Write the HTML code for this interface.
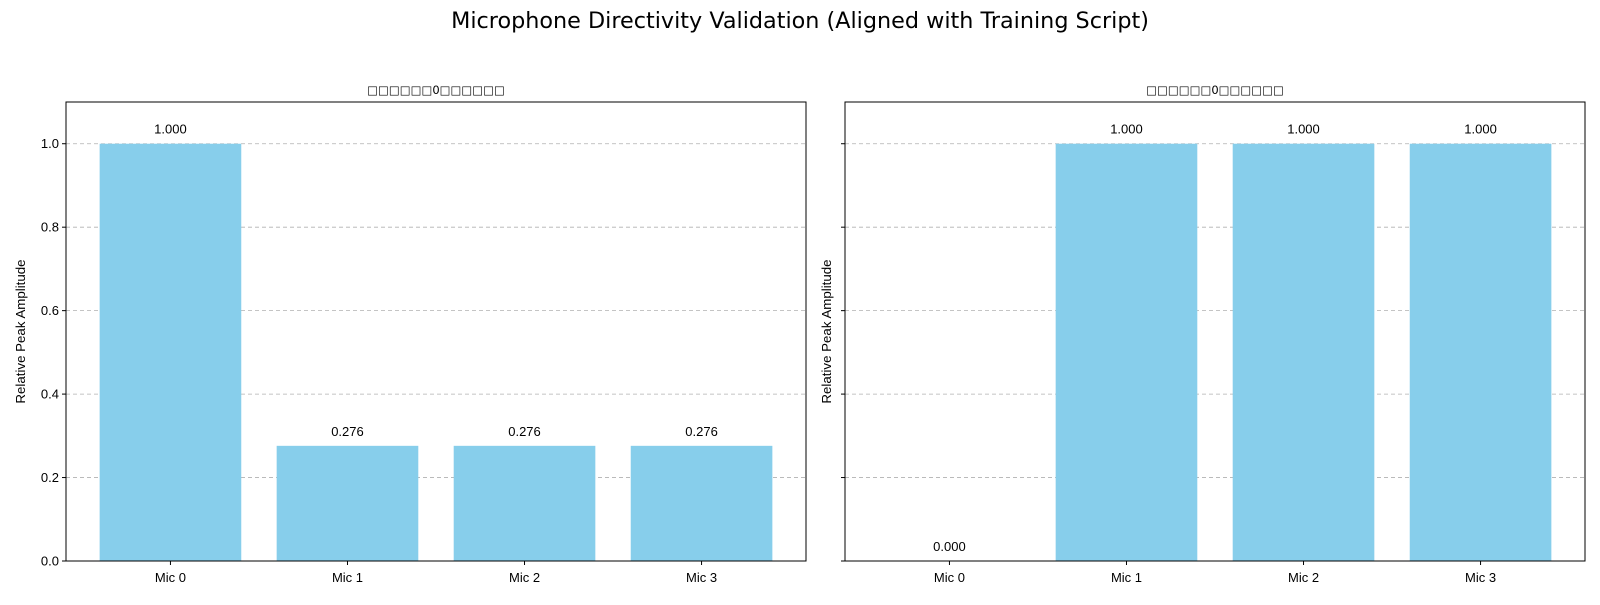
<!DOCTYPE html>
<html><head><meta charset="utf-8"><style>
body{margin:0;background:#fff;font-family:"Liberation Sans","DejaVu Sans",sans-serif;}
</style></head><body>
<svg id="chart" width="1600" height="600" xmlns="http://www.w3.org/2000/svg">
<text x="800" y="28" text-anchor="middle" font-size="22.3" font-family="DejaVu Sans, Liberation Sans, sans-serif">Microphone Directivity Validation (Aligned with Training Script)</text>
</svg>
<script>
const categories=["Mic 0","Mic 1","Mic 2","Mic 3"];
const leftValues=[1.0,0.276,0.276,0.276];
const rightValues=[0.0,1.0,1.0,1.0];
const yTicks=[0,0.2,0.4,0.6,0.8,1.0];
const titles=["□□□□□□0□□□□□□","□□□□□□0□□□□□□"];
const svg=document.getElementById('chart');
const NS="http://www.w3.org/2000/svg";
function mk(tag,attrs,parent){const e=document.createElementNS(NS,tag);for(const k in attrs)e.setAttribute(k,attrs[k]);(parent||svg).appendChild(e);return e;}
const plotTop=102,plotBot=561,ymax=1.1;
function Y(v){return plotBot-(v/ymax)*(plotBot-plotTop);}
function panel(x0,x1,vals,title,idx,showLabels){
  const g=mk('g',{});
  
  
  const xmin=-0.59,xmax=categories.length-1+0.59;
  const X=v=>x0+(v-xmin)/(xmax-xmin)*(x1-x0);
  yTicks.forEach(t=>{
    if(t>0){const l=mk('line',{x1:x0,x2:x1,y1:Y(t),y2:Y(t),stroke:'#b0b0b0','stroke-dasharray':'4,3','stroke-width':0.8},g);
    }
    const tk=mk('line',{x1:x0-4,x2:x0,y1:Y(t),y2:Y(t),stroke:'#000'},g);
    
    if(showLabels){const tx=mk('text',{x:x0-7,y:Y(t)+4.5,'text-anchor':'end','font-size':13},g);tx.textContent=t.toFixed(1);
    }
  });
  const bw=(X(0.8)-X(0));
  vals.forEach((v,i)=>{
    const r=mk('rect',{x:X(i)-bw/2,y:Y(v),width:bw,height:plotBot-Y(v),fill:'#87ceeb'},g);
    
    
    const t=mk('text',{x:X(i),y:Y(v)-10,'text-anchor':'middle','font-size':13},g);t.textContent=v.toFixed(3);
    
    const tk=mk('line',{x1:X(i),x2:X(i),y1:plotBot,y2:plotBot+4,stroke:'#000'},g);
    
    const xl=mk('text',{x:X(i),y:plotBot+21,'text-anchor':'middle','font-size':13},g);xl.textContent=categories[i];
    
  });
  const fr=mk('rect',{x:x0,y:plotTop,width:x1-x0,height:plotBot-plotTop,fill:'none',stroke:'#000','stroke-width':1},g);
  
  const tt=mk('text',{x:(x0+x1)/2,y:94,'text-anchor':'middle','font-size':11.5,'font-family':'DejaVu Sans, sans-serif'},g);tt.textContent=title;
  
  const yl=mk('text',{x:0,y:0,'text-anchor':'middle','font-size':13.3,transform:`translate(${x0-(showLabels?41:14)},${(plotTop+plotBot)/2}) rotate(-90)`},g);yl.textContent='Relative Peak Amplitude';
  
}
panel(66,806,leftValues,titles[0],'left',true);
panel(845,1585,rightValues,titles[1],'right',false);
</script>
</body></html>
